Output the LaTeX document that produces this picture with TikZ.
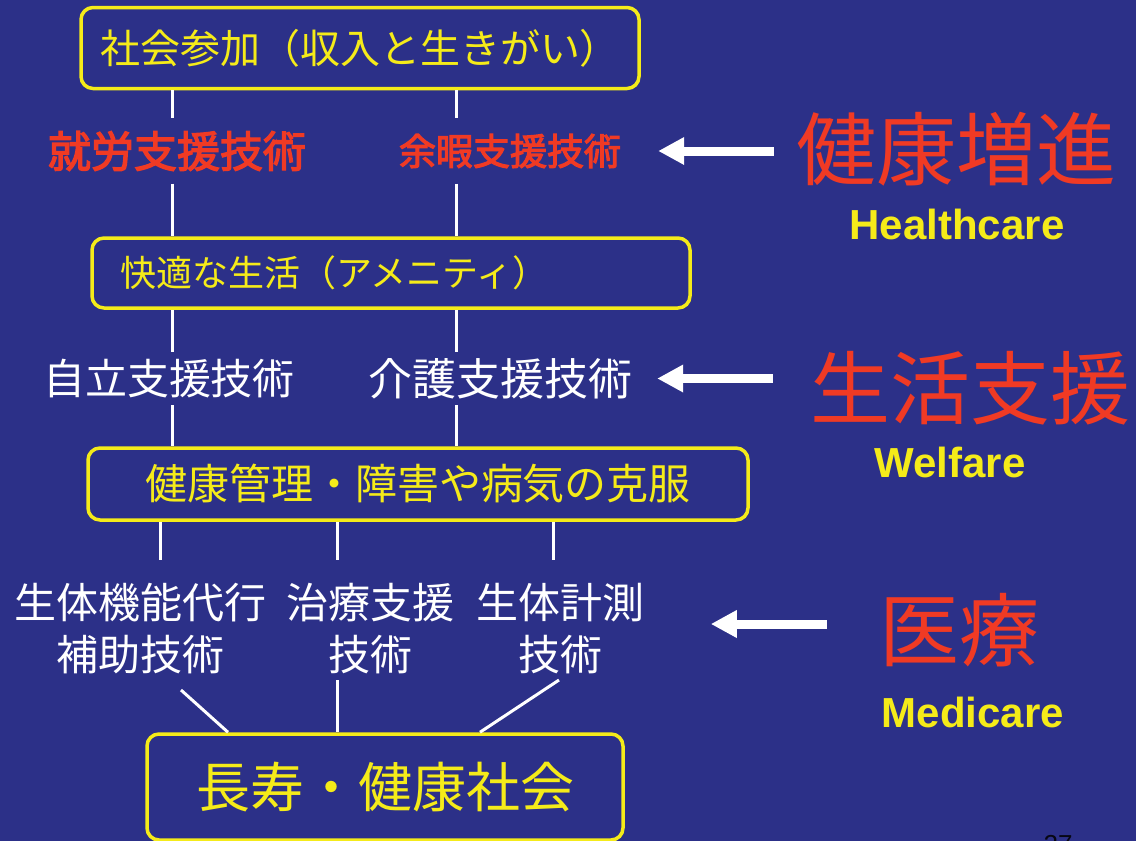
\documentclass[tikz,border=0pt]{standalone}
\usepackage{fontspec}
\setmainfont{Noto Sans CJK JP}
\newfontfamily\jpheavy{Noto Sans CJK JP}[FakeBold=3]
\newfontfamily\latinfont{Liberation Sans}
\usetikzlibrary{arrows.meta}

\definecolor{slidebg}{RGB}{44,48,136}
\definecolor{slideyellow}{RGB}{245,235,25}
\definecolor{slidered}{RGB}{240,58,36}

\newcommand\fsz[1]{\fontsize{#1}{#1}\selectfont}

\tikzset{
  goalbox/.style={draw=slideyellow, line width=3.5pt, rounded corners=12pt,
    text=slideyellow, inner sep=0pt},
  link/.style={draw=white, line width=3pt},
  techlabel/.style={inner sep=0pt, minimum height=#1},
  bigarrow/.style={white, line width=9pt, -{Triangle[width=26pt,length=26pt]}},
  fieldname/.style={text=slidered, inner sep=0pt, font=\fsz{80}},
  fieldeng/.style={text=slideyellow, inner sep=0pt, font=\latinfont\bfseries\fsz{42}},
}

\begin{document}
\begin{tikzpicture}[x=1pt, y=-1pt]
    % Background
    \fill[slidebg] (0,0) rectangle (1136,841);
    \useasboundingbox (0,0) rectangle (1136,841);

    % Boxes
    \node[goalbox, minimum width=558pt, minimum height=81pt, font=\fsz{40}] (box1) at (360,48)
        {社会参加（収入と生きがい）};
    \node[goalbox, minimum height=70pt, text width=542pt, inner xsep=28pt, align=left,
        font=\fsz{36}] (box2) at (391,273) {快適な生活（アメニティ）};
    \node[goalbox, minimum width=660pt, minimum height=72pt, font=\fsz{42}] (box3) at (418,484)
        {健康管理・障害や病気の克服};
    \node[goalbox, minimum width=476pt, minimum height=106pt, font=\fsz{54}] (box4) at (385,787)
        {長寿・健康社会};

    % Support techniques
    \node[techlabel=65pt, text=slidered, font=\jpheavy\fsz{43}] (work) at (177,151) {就労支援技術};
    \node[techlabel=65pt, text=slidered, font=\jpheavy\fsz{37}] (leisure) at (510,151) {余暇支援技術};
    \node[techlabel=53pt, text=white, font=\fsz{42}] (self) at (169,378.5) {自立支援技術};
    \node[techlabel=53pt, text=white, font=\fsz{44}] (care) at (500,378.5) {介護支援技術};

    % Medical techniques
    \node[inner sep=0pt, text=white, align=center, font=\fontsize{42}{52}\selectfont] (bio) at (141,629)
        {生体機能代行\\補助技術};
    \node[inner sep=0pt, text=white, align=center, font=\fontsize{42}{52}\selectfont] (treat) at (370,629)
        {治療支援\\技術};
    \node[inner sep=0pt, text=white, align=center, font=\fontsize{42}{52}\selectfont] (meas) at (560,629)
        {生体計測\\技術};

    % Vertical links
    \coordinate (c1) at (172,0);
    \coordinate (c2) at (456,0);
    \draw[link] (box1.south -| c1) -- (work.north -| c1);
    \draw[link] (work.south -| c1) -- (box2.north -| c1);
    \draw[link] (box1.south -| c2) -- (leisure.north -| c2);
    \draw[link] (leisure.south -| c2) -- (box2.north -| c2);
    \draw[link] (box2.south -| c1) -- (self.north -| c1);
    \draw[link] (self.south -| c1) -- (box3.north -| c1);
    \draw[link] (box2.south -| c2) -- (care.north -| c2);
    \draw[link] (care.south -| c2) -- (box3.north -| c2);

    % Links through the medical row
    \coordinate (k1) at (160,560);
    \coordinate (k2) at (337,560);
    \coordinate (k3) at (553,560);
    \draw[link] (box3.south -| k1) -- (k1);
    \draw[link] (box3.south -| k2) -- (k2);
    \draw[link] (box3.south -| k3) -- (k3);
    \coordinate (m1) at (181,690);
    \coordinate (m2) at (337,680);
    \coordinate (m3) at (559,680);
    \draw[link] (m1) -- ([xshift=-157pt]box4.north);
    \draw[link] (m2) -- (box4.north -| m2);
    \draw[link] (m3) -- ([xshift=95pt]box4.north);

    % Fields on the right
    \node[fieldname] (health) at (956,149) {健康増進};
    \node[fieldeng] (healthen) at (957,224) {Healthcare};
    \node[fieldname] (life) at (970,388) {生活支援};
    \node[fieldeng] (lifeen) at (950,462) {Welfare};
    \node[fieldname] (med) at (959,630) {医療};
    \node[fieldeng] (meden) at (973,712) {Medicare};

    % Arrows
    \draw[bigarrow] ([xshift=-22pt]health.west |- leisure.east) -- ([xshift=37pt]leisure.east);
    \draw[bigarrow] ([xshift=-37pt]life.west |- care.east) -- ([xshift=25pt]care.east);
    \draw[bigarrow] ([xshift=-52pt,yshift=6pt]med.west) -- ([xshift=-168pt,yshift=6pt]med.west);

    % Page number, cut by the edge
    \node[anchor=north, inner sep=0pt, text=black!85!slidebg, font=\latinfont\fsz{26}] (pagenum)
        at (1058,835) {27};
\end{tikzpicture}
\end{document}
